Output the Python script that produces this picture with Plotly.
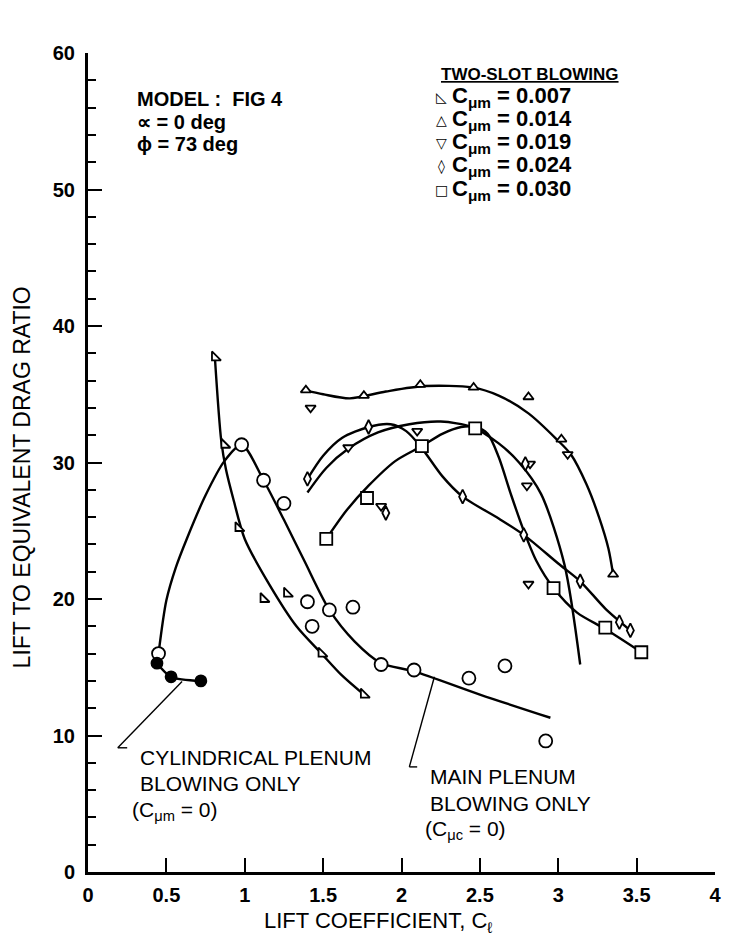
import plotly.graph_objects as go

# ---------------- data ----------------
# cylindrical plenum blowing only (filled circles)
cyl_cl = [0.44, 0.53, 0.72]
cyl_ld = [15.3, 14.3, 14.0]

# main plenum blowing only (open circles)
main_cl = [0.45, 0.98, 1.12, 1.25, 1.40, 1.43, 1.54, 1.69, 1.87, 2.08, 2.43, 2.66, 2.92]
main_ld = [16.0, 31.3, 28.7, 27.0, 19.8, 18.0, 19.2, 19.4, 15.2, 14.8, 14.2, 15.1, 9.6]
main_fit_cl = [0.45, 0.50, 0.56, 0.63, 0.75, 0.87, 0.98, 1.12, 1.25, 1.38, 1.54, 1.70, 1.87, 2.08, 2.50, 2.95]
main_fit_ld = [16.0, 19.9, 22.3, 24.4, 27.6, 30.1, 31.3, 28.7, 25.8, 22.8, 19.2, 16.9, 15.3, 14.7, 13.0, 11.3]

# two-slot blowing series
s007_cl = [0.81, 0.87, 0.96, 1.12, 1.27, 1.49, 1.76]
s007_ld = [37.7, 31.3, 25.2, 20.0, 20.4, 16.0, 13.0]
s007_fit_cl = [0.81, 0.85, 0.88, 0.93, 1.00, 1.16, 1.33, 1.49, 1.62, 1.76]
s007_fit_ld = [37.6, 31.6, 29.5, 27.2, 24.4, 21.0, 18.0, 16.0, 14.4, 13.0]

s014_cl = [1.39, 1.76, 2.12, 2.46, 2.81, 3.02, 3.35]
s014_ld = [35.3, 34.9, 35.7, 35.5, 34.8, 31.7, 21.8]
s014_fit_cl = [1.38, 1.50, 1.67, 1.90, 2.15, 2.45, 2.62, 2.81, 2.99, 3.08, 3.18, 3.26, 3.32, 3.35]
s014_fit_ld = [35.3, 35.0, 34.7, 35.2, 35.6, 35.5, 34.9, 33.6, 31.7, 30.6, 28.4, 26.0, 23.7, 21.8]

s019_cl = [1.42, 1.66, 1.87, 2.10, 2.82, 2.80, 2.81, 3.06]
s019_ld = [34.0, 31.1, 26.8, 32.3, 29.9, 28.3, 21.1, 30.6]
s019_fit_cl = [1.40, 1.52, 1.66, 1.85, 2.05, 2.25, 2.45, 2.62, 2.75, 2.89, 3.04, 3.14]
s019_fit_ld = [27.8, 29.6, 31.0, 32.2, 32.8, 33.0, 32.6, 31.4, 30.0, 27.7, 22.5, 15.2]

s024_cl = [1.40, 1.79, 1.90, 2.39, 2.78, 2.79, 3.14, 3.39, 3.46]
s024_ld = [28.8, 32.6, 26.3, 27.5, 24.7, 29.9, 21.3, 18.3, 17.7]
s024_fit_cl = [1.40, 1.50, 1.62, 1.79, 1.93, 2.03, 2.12, 2.26, 2.39, 2.62, 2.78, 3.00, 3.14, 3.30, 3.46]
s024_fit_ld = [28.8, 30.5, 31.8, 32.6, 32.8, 32.3, 31.2, 29.0, 27.5, 25.9, 24.7, 22.6, 21.3, 19.3, 17.7]

s030_cl = [1.52, 1.78, 2.13, 2.47, 2.97, 3.30, 3.53]
s030_ld = [24.4, 27.4, 31.2, 32.5, 20.8, 17.9, 16.1]
s030_fit_cl = [1.52, 1.65, 1.79, 1.96, 2.13, 2.26, 2.38, 2.47, 2.55, 2.62, 2.70, 2.78, 2.86, 2.97, 3.12, 3.30, 3.53]
s030_fit_ld = [24.4, 26.5, 28.3, 30.1, 31.2, 32.1, 32.6, 32.6, 32.1, 30.4, 27.6, 25.0, 22.8, 20.8, 19.0, 17.8, 16.1]

legend_title = "TWO-SLOT BLOWING"
legend_labels = ["0.007", "0.014", "0.019", "0.024", "0.030"]
legend_glyphs = ["\u25fa", "\u25b3", "\u25bd", "\u25ca", "\u25a1"]

# axis ticks
x_ticks = [0, 0.5, 1, 1.5, 2, 2.5, 3, 3.5, 4]
x_tick_text = ["0", "0.5", "1", "1.5", "2", "2.5", "3", "3.5", "4"]
y_ticks = [0, 10, 20, 30, 40, 50, 60]

# ---------------- figure ----------------
FONT = "Liberation Sans, Arial, sans-serif"
GLYPH = "DejaVu Sans, sans-serif"
LW = 2.4

fig = go.Figure()

def fit(xs, ys):
    fig.add_trace(go.Scatter(x=xs, y=ys, mode="lines", showlegend=False,
                             line=dict(color="black", width=LW, shape="spline", smoothing=0.8),
                             hoverinfo="skip"))

def pts(xs, ys, symbol, size, fill=False):
    fig.add_trace(go.Scatter(
        x=xs, y=ys, mode="markers", showlegend=False,
        marker=dict(symbol=symbol, size=size, color="black" if fill else "white",
                    line=dict(color="black", width=1.8))))

fit(main_fit_cl, main_fit_ld)
fit(cyl_cl, cyl_ld)
fit(s007_fit_cl, s007_fit_ld)
fit(s014_fit_cl, s014_fit_ld)
fit(s019_fit_cl, s019_fit_ld)
fit(s024_fit_cl, s024_fit_ld)
fit(s030_fit_cl, s030_fit_ld)

pts(main_cl, main_ld, "circle", 13)
pts(cyl_cl, cyl_ld, "circle", 11, fill=True)

sym = ["triangle-sw", "triangle-up", "triangle-down", "diamond-tall", "square"]
sizes = [10, 9, 9, 10, 12]
series = [(s007_cl, s007_ld), (s014_cl, s014_ld), (s019_cl, s019_ld),
          (s024_cl, s024_ld), (s030_cl, s030_ld)]
for (xs, ys), s, sz in zip(series, sym, sizes):
    pts(xs, ys, s, sz)

# ---------------- annotations ----------------
ann = []
def txt(x, y, t, size=20, bold=False, font=FONT, anchor="left", ref=("x", "y"), angle=0):
    ann.append(dict(x=x, y=y, xref=ref[0], yref=ref[1], text=t, showarrow=False,
                    xanchor=anchor, yanchor="middle", textangle=angle,
                    font=dict(family=font, size=size, color="black",
                              weight="bold" if bold else "normal")))

txt(0.30, 56.6, "MODEL :  FIG 4", bold=True, size=20)
txt(0.30, 54.95, "\u221d = 0 deg", bold=True, size=20)
txt(0.30, 53.3, "\u03d5 = 73 deg", bold=True, size=20)

# legend block (drawn as text)
txt(2.24, 58.4, "<u>" + legend_title + "</u>", bold=True, size=17)
row_y = [56.8, 55.1, 53.4, 51.7, 50.0]
for g, lab, yy in zip(legend_glyphs, legend_labels, row_y):
    txt(2.255, yy, g, size=14, font=GLYPH, anchor="center")
    txt(2.31, yy, "C<sub>\u03bcm</sub> = " + lab, bold=True, size=22)

txt(0.32, 8.4, "CYLINDRICAL PLENUM", size=21)
txt(0.32, 6.5, "BLOWING ONLY", size=21)
txt(0.27, 4.5, "(C<sub>\u03bcm</sub> = 0)", size=21)

txt(2.17, 7.0, "MAIN PLENUM", size=21)
txt(2.17, 5.05, "BLOWING ONLY", size=21)
txt(2.14, 3.1, "(C<sub>\u03bcc</sub> = 0)", size=21)

# axis titles (placed as annotations to match reference offsets)
txt(0.463, -0.061, "LIFT COEFFICIENT, C<sub>\u2113</sub>", size=22, anchor="center", ref=("paper", "paper"))
txt(-0.105, 0.482, "LIFT TO EQUIVALENT DRAG RATIO", size=23, anchor="center",
    ref=("paper", "paper"), angle=-90)

fig.update_layout(annotations=ann)

# leader lines
LL = dict(color="black", width=1.4)
fig.add_shape(type="line", x0=0.60, y0=13.95, x1=0.19, y1=9.1, line=LL)
fig.add_shape(type="line", x0=0.19, y0=9.1, x1=0.25, y1=9.1, line=LL)
fig.add_shape(type="line", x0=2.21, y0=14.3, x1=2.05, y1=7.7, line=LL)
fig.add_shape(type="line", x0=2.05, y0=7.7, x1=2.10, y1=7.7, line=LL)

fig.update_layout(
    width=733, height=949,
    margin=dict(l=88, r=14, t=53, b=77),
    plot_bgcolor="white", paper_bgcolor="white",
    showlegend=False,
    xaxis=dict(
        range=[0, 4], tickvals=x_ticks, ticktext=x_tick_text,
        showgrid=False, zeroline=False, showline=True, linewidth=3, linecolor="black",
        ticks="inside", ticklen=14, tickwidth=2, tickcolor="black",
        ticklabelstandoff=3,
        tickfont=dict(family=FONT, size=20, color="black", weight="bold"),
    ),
    yaxis=dict(
        range=[0, 60], tickvals=y_ticks,
        showgrid=False, zeroline=False, showline=True, linewidth=3, linecolor="black",
        ticks="inside", ticklen=14, tickwidth=2, tickcolor="black",
        ticklabelstandoff=6,
        tickfont=dict(family=FONT, size=20, color="black", weight="bold"),
        minor=dict(dtick=2, ticks="inside", ticklen=8, tickwidth=1.5, tickcolor="black"),
    ),
)

fig.write_html("out.html")
